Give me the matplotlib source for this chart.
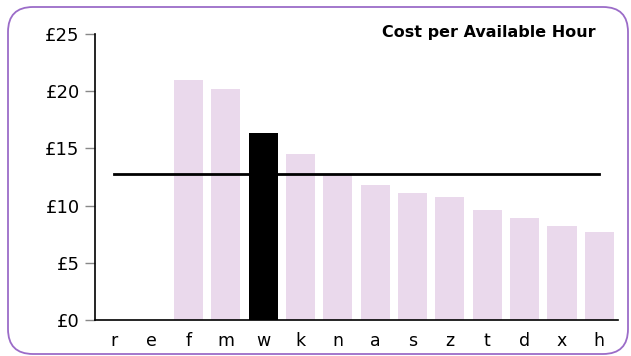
import matplotlib

matplotlib.use("Agg")
import matplotlib.pyplot as plt
from matplotlib.patches import FancyBboxPatch
from matplotlib.ticker import FuncFormatter, MultipleLocator
from matplotlib.transforms import IdentityTransform

# cost per available hour by unit (r and e have no figure)
units = ["r", "e", "f", "m", "w", "k", "n", "a", "s", "z", "t", "d", "x", "h"]
costs = [0, 0, 21.0, 20.2, 16.35, 14.5, 12.7, 11.8, 11.07, 10.78, 9.6, 8.89, 8.25, 7.72]
highlight = "w"
average = 12.76

title = "Cost per Available Hour"

BAR = "#ead9ec"
HIGHLIGHT = "#000000"
FRAME = "#9b6cc8"

fig = plt.figure(figsize=(6.31, 3.56), dpi=100)
W, H = 631, 356
ax = fig.add_axes([95 / W, 1 - 320 / H, (618 - 95) / W, (320 - 34) / H])

xs = list(range(len(units)))
colors = [HIGHLIGHT if u == highlight else BAR for u in units]
ax.bar(xs, costs, width=0.78, color=colors, zorder=2)
ax.plot([xs[0], xs[-1]], [average, average], color="black", lw=2, zorder=3)

ax.set_xlim(-0.5, len(units) - 0.5)
ax.set_ylim(0, 25)
ax.set_xticks(xs)
ax.set_xticklabels(units)
ax.yaxis.set_major_locator(MultipleLocator(5))
ax.yaxis.set_major_formatter(FuncFormatter(lambda v, _: f"£{v:.0f}"))

for side in ("top", "right"):
    ax.spines[side].set_visible(False)
ax.spines["left"].set_linewidth(1.2)
ax.spines["bottom"].set_linewidth(1.2)
ax.tick_params(axis="x", length=0, pad=9, labelsize=12.5)
ax.tick_params(axis="y", length=7, width=1, color="#888888", pad=4, labelsize=13)

fig.text(596 / W, 1 - 33 / H, title, ha="right", va="center",
         fontsize=11.5, fontweight="bold")

# rounded frame around the whole chart, in pixel coordinates
frame = FancyBboxPatch((8, H - 354), 620, 347,
                       boxstyle="round,pad=0,rounding_size=25",
                       fill=False, edgecolor=FRAME, lw=1.3,
                       transform=IdentityTransform())
fig.add_artist(frame)

fig.savefig("out.png", dpi=100)
